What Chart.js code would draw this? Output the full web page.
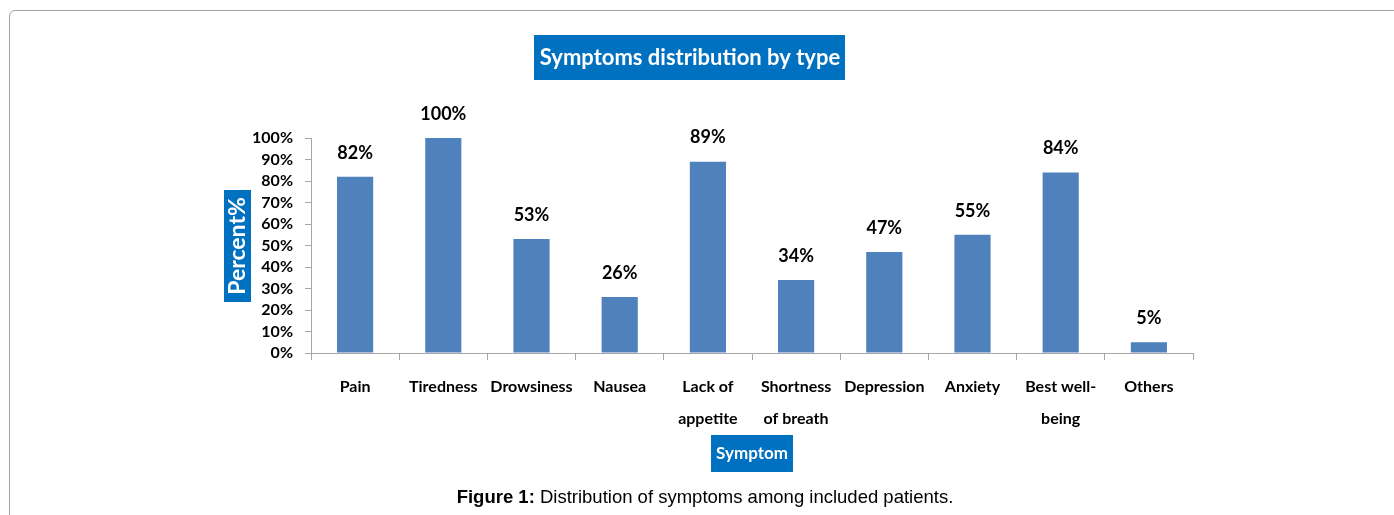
<!DOCTYPE html>
<html>
<head>
<meta charset="utf-8">
<script src="https://cdn.jsdelivr.net/npm/chart.js@4"></script>
<style>
  body { margin: 0; background: #fff; width: 1394px; height: 515px; overflow: hidden; position: relative; }
  #frame { position: absolute; left: 9px; top: 10px; width: 1420px; height: 540px; border: 1px solid #a0a0a0; border-radius: 6px; box-sizing: border-box; }
  #wrap { position: absolute; left: 0; top: 0; width: 1394px; height: 515px; }
  #caption { position: absolute; left: 8px; top: 486px; width: 1394px; text-align: center; font-family: "Liberation Sans", Arial, sans-serif; font-size: 18.5px; color: #000; }
</style>
</head>
<body>
<div id="frame"></div>
<div id="wrap"><canvas id="symptomChart" width="1394" height="515"></canvas></div>
<div id="caption"><b>Figure 1:</b> Distribution of symptoms among included patients.</div>
<script>
let categories = ["Pain", "Tiredness", "Drowsiness", "Nausea", ["Lack of", "appetite"], ["Shortness", "of breath"], "Depression", "Anxiety", ["Best well-", "being"], "Others"];
let percents = [82, 100, 53, 26, 89, 34, 47, 55, 84, 5];
let yTicks = [0, 10, 20, 30, 40, 50, 60, 70, 80, 90, 100];

let chartTitle = "Symptoms distribution by type";
let yTitle = "Percent%";
let xTitle = "Symptom";

const fontFamily = "Lato, 'Open Sans', sans-serif";
const boxBlue = "#0070C0";

// blue boxed titles + value labels over the bars
const boxTitles = {
    id: 'boxTitles',
    afterDraw(chart) {
        let ctx = chart.ctx;
        ctx.save();

        // main title
        ctx.fillStyle = boxBlue;
        ctx.fillRect(534, 35, 311, 45);
        ctx.fillStyle = "#fff";
        ctx.font = "bold 22px " + fontFamily;
        ctx.textAlign = "center";
        ctx.textBaseline = "middle";
        ctx.fillText(chartTitle, 690, 58);

        // x axis title
        ctx.fillStyle = boxBlue;
        ctx.fillRect(711, 435, 82, 37);
        ctx.fillStyle = "#fff";
        ctx.font = "bold 17px " + fontFamily;
        ctx.fillText(xTitle, 752, 454);

        // y axis title
        ctx.fillStyle = boxBlue;
        ctx.fillRect(224, 190, 27, 112);
        ctx.translate(238, 246);
        ctx.rotate(-Math.PI / 2);
        ctx.fillStyle = "#fff";
        ctx.font = "bold 23px " + fontFamily;
        ctx.fillText(yTitle, 0, 0);
        ctx.restore();

        // value labels
        ctx.save();
        ctx.fillStyle = "#000";
        ctx.font = "bold 18px " + fontFamily;
        ctx.textAlign = "center";
        ctx.textBaseline = "middle";
        let meta = chart.getDatasetMeta(0);
        meta.data.forEach((bar, i) => {
            ctx.fillText(percents[i] + "%", bar.x, bar.y - 24);
        });
        ctx.restore();
    }
};

let ctx = document.getElementById('symptomChart').getContext('2d');
let chartInstance = new Chart(ctx, {
    type: 'bar',
    data: {
        labels: categories,
        datasets: [{
            data: percents,
            backgroundColor: '#4F81BD',
            borderWidth: 0,
            categoryPercentage: 1,
            barPercentage: 0.41
        }]
    },
    options: {
        responsive: false,
        animation: false,
        layout: { padding: { left: 221, right: 201, top: 138, bottom: 62 } },
        plugins: {
            legend: { display: false },
            tooltip: { enabled: false }
        },
        scales: {
            x: {
                afterFit: scale => { scale.height = 100; },
                border: { color: '#a6a6a6', width: 1 },
                grid: { drawOnChartArea: false, tickLength: 7, color: '#a6a6a6' },
                ticks: {
                    color: '#000',
                    padding: 11,
                    maxRotation: 0,
                    autoSkip: false,
                    font: { family: fontFamily, size: 16, weight: 'bold', lineHeight: 2 }
                }
            },
            y: {
                min: 0,
                max: 100,
                afterFit: scale => { scale.width = 90; },
                afterBuildTicks: scale => { scale.ticks = yTicks.map(v => ({ value: v })); },
                border: { color: '#a6a6a6', width: 1 },
                grid: { drawOnChartArea: false, tickLength: 6, color: '#a6a6a6' },
                ticks: {
                    color: '#000',
                    padding: 12,
                    autoSkip: false,
                    font: { family: fontFamily, size: 16, weight: 'bold' },
                    callback: v => v + "%"
                }
            }
        }
    },
    plugins: [boxTitles]
});
</script>
</body>
</html>
